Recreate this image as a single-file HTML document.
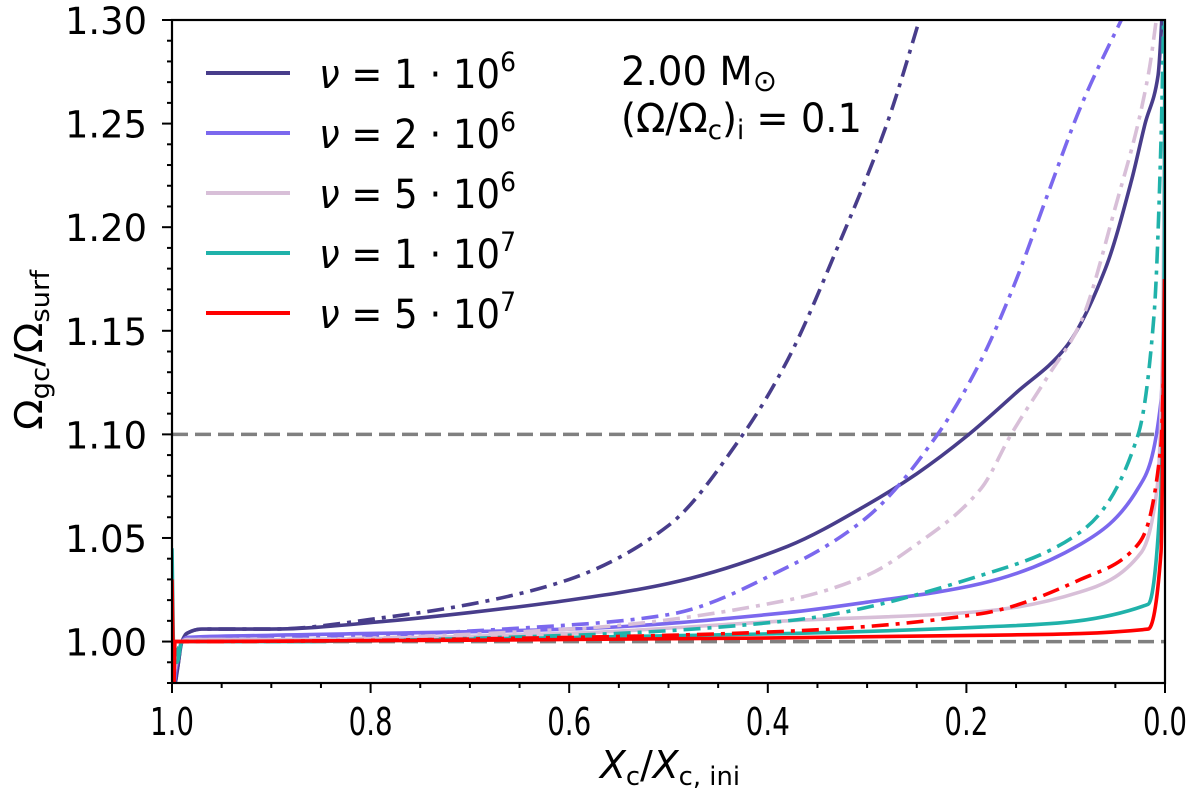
<!DOCTYPE html>
<html><head><meta charset="utf-8"><style>
body{margin:0;background:#fff}
svg text{font-family:"DejaVu Sans","Liberation Sans",sans-serif;fill:#000}
</style></head><body>
<svg id="chart" width="1200" height="794" viewBox="0 0 1200 794" xmlns="http://www.w3.org/2000/svg">
<defs><clipPath id="clip"><rect x="172" y="20" width="993" height="663"/></clipPath></defs>
<g id="plot" clip-path="url(#clip)"></g>
<g id="axes"></g>
<g id="legend"></g>
<text x="621" y="85" font-size="40" textLength="156" lengthAdjust="spacingAndGlyphs">2.00 M<tspan font-size="30" dy="6">⊙</tspan></text>
<text x="621" y="132" font-size="40" textLength="241" lengthAdjust="spacingAndGlyphs">(Ω/Ω<tspan font-size="27" dy="7">c</tspan><tspan dy="-7">)</tspan><tspan font-size="27" dy="7">i</tspan><tspan dy="-7"> = 0.1</tspan></text>
<text x="670" y="778" font-size="38" text-anchor="middle" textLength="140" lengthAdjust="spacingAndGlyphs"><tspan font-style="italic">X</tspan><tspan font-size="26" dy="7">c</tspan><tspan dy="-7">/</tspan><tspan font-style="italic">X</tspan><tspan font-size="26" dy="7">c, ini</tspan></text>
<text transform="translate(42,350) rotate(-90)" font-size="38" text-anchor="middle" textLength="160" lengthAdjust="spacingAndGlyphs">Ω<tspan font-size="26" dy="7">gc</tspan><tspan dy="-7">/Ω</tspan><tspan font-size="26" dy="7">surf</tspan></text>
</svg>
<script>
const xTicks=[1.0,0.8,0.6,0.4,0.2,0.0];
const yTicks=[1.00,1.05,1.10,1.15,1.20,1.25,1.30];
const refLines=[1.00,1.10];
const seriesNames=["ν = 1·10⁶","ν = 2·10⁶","ν = 5·10⁶","ν = 1·10⁷","ν = 5·10⁷"];
const seriesColors=["#483d8b","#7b68ee","#d8bfd8","#20b2aa","#ff0000"];
const xs1=[1.0,0.995,0.99,0.985,0.97,0.9,0.78,0.7,0.6,0.5,0.38,0.3,0.25,0.2,0.15,0.1,0.06,0.034,0.02,0.007,0.002];
const solid1=[0.97,0.985,1.0,1.004,1.006,1.006,1.010,1.014,1.020,1.028,1.046,1.066,1.081,1.099,1.12,1.142,1.18,1.222,1.25,1.273,1.31];
const xs1d=[1.0,0.995,0.99,0.985,0.97,0.9,0.78,0.7,0.6,0.5,0.425,0.38,0.33,0.28,0.241];
const dash1=[0.97,0.985,1.0,1.004,1.006,1.006,1.012,1.018,1.030,1.056,1.10,1.136,1.19,1.25,1.31];
const xs2=[1.0,0.995,0.99,0.985,0.9,0.6,0.38,0.3,0.185,0.085,0.027,0.004,0.001,0.0];
const solid2=[0.97,0.99,1.0,1.002,1.003,1.006,1.014,1.019,1.028,1.047,1.074,1.116,1.17,1.30];
const xs2d=[1.0,0.995,0.99,0.985,0.9,0.6,0.5,0.38,0.3,0.229,0.185,0.152,0.118,0.085,0.034];
const dash2=[0.97,0.99,1.0,1.002,1.002,1.008,1.013,1.036,1.060,1.10,1.136,1.172,1.216,1.258,1.31];
const xs3=[1.0,0.99,0.985,0.9,0.6,0.38,0.185,0.085,0.024,0.008,0.002,0.0];
const solid3=[0.98,1.0,1.001,1.001,1.004,1.010,1.0145,1.024,1.043,1.074,1.15,1.30];
const xs3d=[1.0,0.99,0.985,0.9,0.6,0.38,0.3,0.25,0.185,0.155,0.118,0.085,0.051,0.017,0.006];
const dash3=[0.98,1.0,1.001,1.001,1.006,1.020,1.032,1.047,1.074,1.10,1.128,1.154,1.208,1.273,1.31];
const xs4=[1.0,0.998,0.995,0.99,0.9,0.6,0.185,0.017,0.004,0.0005,0.0];
const solid4=[1.045,0.99,0.99,1.0,1.0,1.002,1.007,1.018,1.074,1.20,1.30];
const xs4d=[1.0,0.995,0.99,0.9,0.6,0.38,0.185,0.085,0.027,0.011,0.004,0.001];
const dash4=[0.99,0.995,1.0,1.0,1.003,1.010,1.032,1.053,1.10,1.158,1.242,1.31];
const xs5=[1.0,0.998,0.997,0.99,0.6,0.185,0.017,0.004,0.0005];
const solid5=[1.03,0.98,1.0,1.0,1.001,1.003,1.006,1.043,1.175];
const xs5d=[1.0,0.997,0.99,0.6,0.38,0.185,0.085,0.027,0.004,0.001];
const dash5=[1.0,1.0,1.0,1.002,1.005,1.0135,1.030,1.047,1.095,1.14];

const L=172,R=1165,T=20,B=683,X0=1.0,X1=0.0,Y0=0.98,Y1=1.30;
const sx=v=>L+(X0-v)/(X0-X1)*(R-L);
const sy=v=>B-(v-Y0)/(Y1-Y0)*(B-T);
const NS="http://www.w3.org/2000/svg";
function mk(tag,attrs,parent){const e=document.createElementNS(NS,tag);for(const k in attrs)e.setAttribute(k,attrs[k]);parent.appendChild(e);return e;}
function monotone(P){const n=P.length;const dx=[],m=[],t=[];
 for(let i=0;i<n-1;i++){dx.push(P[i+1][0]-P[i][0]);m.push(dx[i]>0?(P[i+1][1]-P[i][1])/dx[i]:0);}
 t[0]=m[0];t[n-1]=m[n-2];
 for(let i=1;i<n-1;i++){t[i]=(m[i-1]*m[i]<=0)?0:(3*(dx[i-1]+dx[i]))/((2*dx[i]+dx[i-1])/m[i-1]+(dx[i]+2*dx[i-1])/m[i]);}
 let d='M'+P[0][0].toFixed(1)+','+P[0][1].toFixed(1);
 for(let i=0;i<n-1;i++){const h=dx[i]/3;
  d+=' C'+(P[i][0]+h).toFixed(1)+','+(P[i][1]+t[i]*h).toFixed(1)+' '+(P[i+1][0]-h).toFixed(1)+','+(P[i+1][1]-t[i+1]*h).toFixed(1)+' '+P[i+1][0].toFixed(1)+','+P[i+1][1].toFixed(1);}
 return d;}
const plot=document.getElementById('plot'),axes=document.getElementById('axes'),legend=document.getElementById('legend');
refLines.forEach(v=>{const l=mk('line',{x1:L,x2:R,y1:sy(v),y2:sy(v),stroke:'#808080','stroke-width':3.5,'stroke-dasharray':'16 7'},plot);

});
const DD='17 7 4 7';
const series=[[xs1,solid1,0,null],[xs1d,dash1,0,DD],[xs2,solid2,1,null],[xs2d,dash2,1,DD],[xs3,solid3,2,null],[xs3d,dash3,2,DD],[xs4,solid4,3,null],[xs4d,dash4,3,DD],[xs5,solid5,4,null],[xs5d,dash5,4,DD]];
series.forEach(([xa,ya,c,d],i)=>{
 const P=xa.map((x,j)=>[sx(x),sy(ya[j])]);
 const a={d:monotone(P),fill:'none',stroke:seriesColors[c],'stroke-width':3.6,'stroke-linejoin':'round'};
 if(d)a['stroke-dasharray']=d;
 const p=mk('path',a,plot);
 
 
});
const frame=mk('rect',{x:L,y:T,width:R-L,height:B-T,fill:'none',stroke:'#000','stroke-width':2.2},axes);


for(let k=0;k<=20;k++){const v=1-k*0.05;const major=k%4===0;
 mk('line',{x1:sx(v),x2:sx(v),y1:B,y2:B+(major?10:5),stroke:'#000','stroke-width':2},axes);}
for(let k=0;k<=32;k++){const v=0.98+k*0.01;const major=Math.round(v*100)%5===0;
 mk('line',{x1:L,x2:L-(major?10:5),y1:sy(v),y2:sy(v),stroke:'#000','stroke-width':2},axes);}
xTicks.forEach(v=>{const t=mk('text',{x:sx(v),y:B+52,'font-size':38,'text-anchor':'middle',textLength:44,lengthAdjust:'spacingAndGlyphs'},axes);t.textContent=v.toFixed(1);

});
yTicks.forEach(v=>{const t=mk('text',{x:L-107,y:sy(v)+14,'font-size':37,textLength:82,lengthAdjust:'spacingAndGlyphs'},axes);t.textContent=v.toFixed(2);

});
seriesNames.forEach((n,i)=>{const y=73+i*60;
 const g=mk('g',{},legend);
 
 
 mk('line',{x1:206,x2:290,y1:y,y2:y,stroke:seriesColors[i],'stroke-width':4},g);
 const t=mk('text',{x:319,y:y+15,'font-size':40,textLength:197,lengthAdjust:'spacingAndGlyphs'},g);
 const m=n.match(/^ν = (\d)·10(.)$/);
 t.innerHTML='<tspan font-style="italic">ν</tspan> = '+m[1]+' · 10<tspan font-size="27" dy="-17">'+({'⁶':'6','⁷':'7'}[m[2]])+'</tspan>';
});
</script>
</body></html>
